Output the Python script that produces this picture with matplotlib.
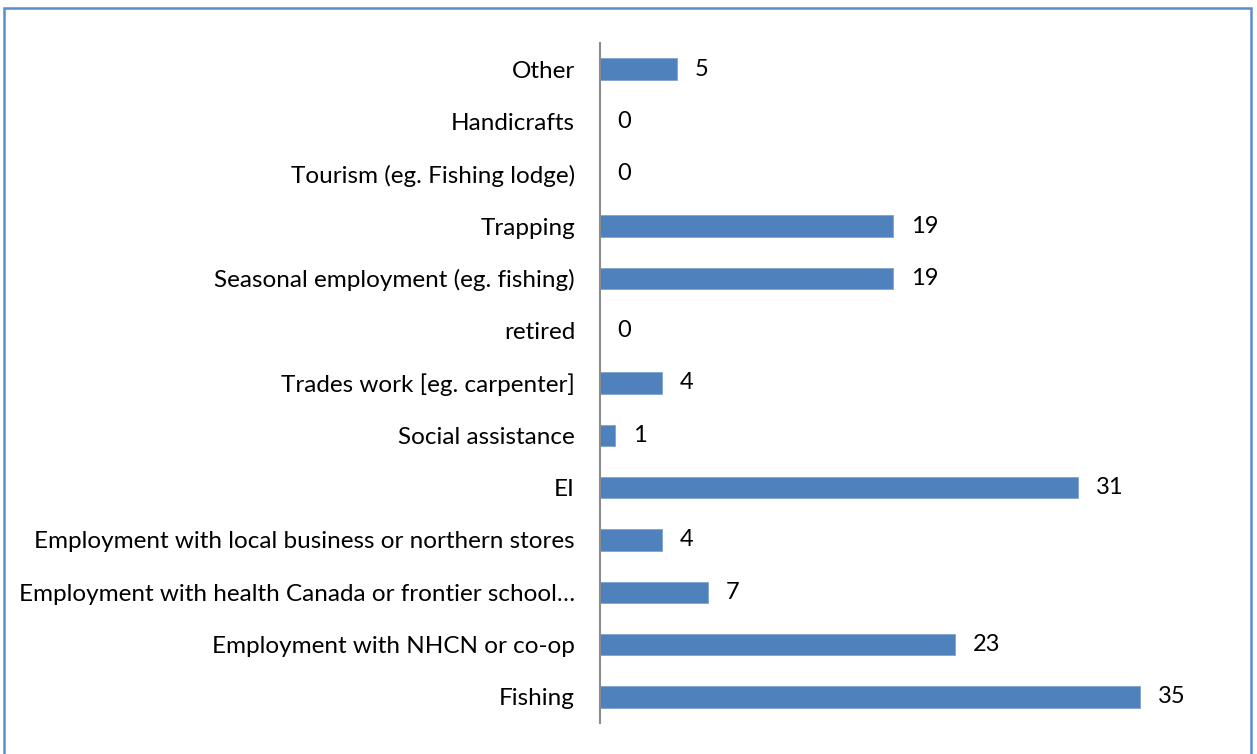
import matplotlib.pyplot as plt
from matplotlib.patches import Rectangle

# Data (bottom to top)
categories = [
    "Fishing",
    "Employment with NHCN or co-op",
    "Employment with health Canada or frontier school…",
    "Employment with local business or northern stores",
    "EI",
    "Social assistance",
    "Trades work [eg. carpenter]",
    "retired",
    "Seasonal employment (eg. fishing)",
    "Trapping",
    "Tourism (eg. Fishing lodge)",
    "Handicrafts",
    "Other",
]
values = [35, 23, 7, 4, 31, 1, 4, 0, 19, 19, 0, 0, 5]

plt.rcParams['font.family'] = ['Lato', 'DejaVu Sans']

fig = plt.figure(figsize=(12.57, 7.54), dpi=100)
ax = fig.add_axes([600 / 1257, 1 - 723 / 754, (1217 - 600) / 1257, 680 / 754])

pos = range(len(categories))
ax.barh(pos, values, height=0.41, color="#4F81BD", edgecolor="#7FA3D1", linewidth=0.6)

for p, v in zip(pos, values):
    ax.text(v + 1.15, p, str(v), va="center", ha="left", fontsize=17, color="black")

ax.set_xlim(0, 40)
ax.set_ylim(-0.5, len(categories) - 0.5)
ax.set_yticks(list(pos))
ax.set_yticklabels(categories, fontsize=17.5)
ax.tick_params(axis="y", length=0, pad=18)
ax.set_xticks([])

for s in ["top", "right", "bottom"]:
    ax.spines[s].set_visible(False)
ax.spines["left"].set_color("#8C8C8C")
ax.spines["left"].set_linewidth(1.5)

# chart border
fig.patches.append(Rectangle((4 / 1257, -0.05), 1247 / 1257, 1.05 - 8 / 754,
                             transform=fig.transFigure, fill=False,
                             edgecolor="#5B8CCB", linewidth=1.8))

fig.savefig("out.png", dpi=100)
